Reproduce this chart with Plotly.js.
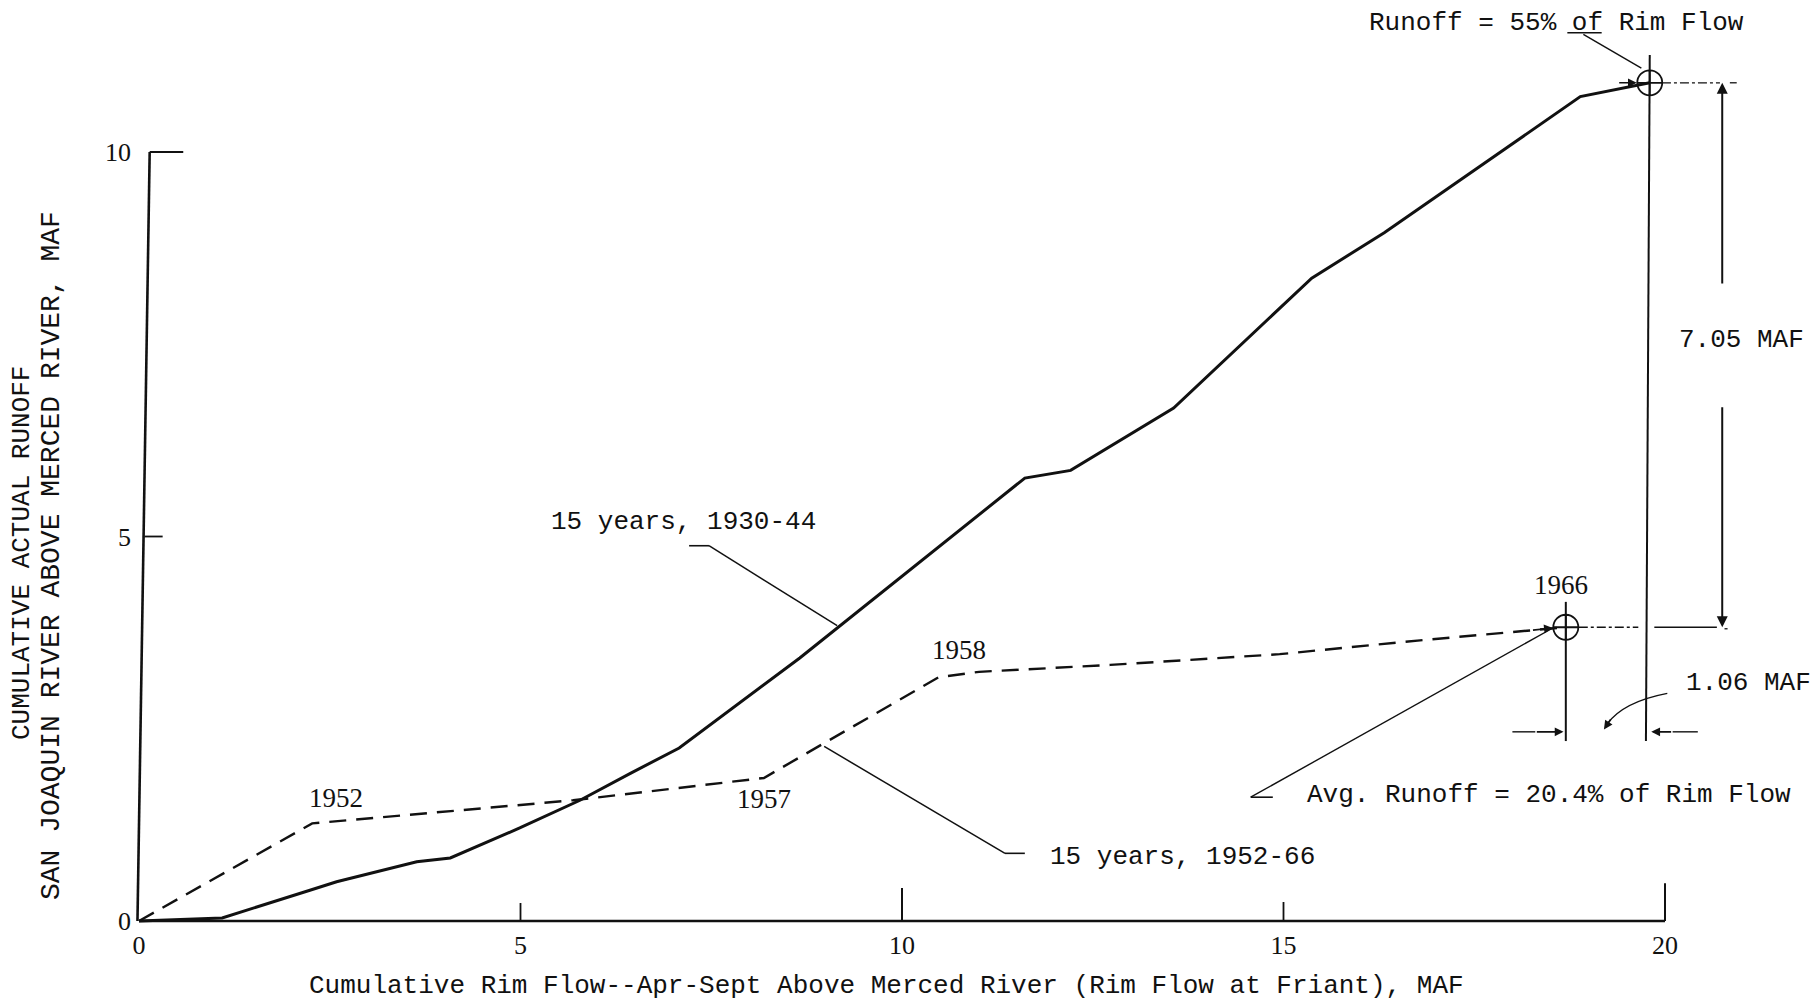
<!DOCTYPE html>
<html>
<head>
<meta charset="utf-8">
<script src="https://cdn.plot.ly/plotly-3.0.1.min.js"></script>
<style>html,body{margin:0;padding:0;background:#fff;}#chart{width:1816px;height:1005px;}</style>
</head>
<body>
<div id="chart"></div>
<script>
// ---- data ----
const solidX = [0, 1.09, 2.24, 2.59, 3.64, 4.08, 4.99, 5.78, 6.44, 7.08, 8.66, 10.72, 11.61, 12.21, 13.56, 15.37, 16.32, 18.89, 19.80];
const solidY = [0, 0.04, 0.40, 0.51, 0.77, 0.82, 1.21, 1.57, 1.92, 2.25, 3.42, 5.05, 5.76, 5.86, 6.67, 8.36, 8.95, 10.72, 10.90];
const dashX = [0, 2.27, 5.69, 8.19, 8.94, 10.48, 11.01, 12.73, 14.95, 16.79, 18.70];
const dashY = [0, 1.27, 1.57, 1.86, 2.29, 3.17, 3.24, 3.33, 3.47, 3.65, 3.82];
const xTicks = [0, 5, 10, 15, 20];
const xTickText = ['0', '5', '10', '15', '20'];
const yTicks = [0, 5, 10];
const yTickText = ['0', '5', '10'];
const solidName = '15 years, 1930-44';
const dashName = '15 years, 1952-66';
const yearLabels = ['1952', '1957', '1958', '1966'];
const xTitle = 'Cumulative Rim Flow--Apr-Sept Above Merced River (Rim Flow at Friant), MAF';
const yTitle1 = 'CUMULATIVE ACTUAL RUNOFF';
const yTitle2 = 'SAN JOAQUIN RIVER ABOVE MERCED RIVER, MAF';
const topNote = 'Runoff = 55% of Rim Flow';
const avgNote = 'Avg. Runoff = 20.4% of Rim Flow';
const diffY = '7.05 MAF';
const diffX = '1.06 MAF';

// ---- page geometry ----
const W = 1816, H = 1005, ML = 121, MB = 66;
const X0PX = 139, XS = 76.3, Y0PX = 921, YS = 76.9;
const xRange = [(ML - X0PX) / XS, (W - X0PX) / XS];
const yRange = [(Y0PX - (H - MB)) / YS, Y0PX / YS];

const ink = '#111';
const mono = 'Liberation Mono, Courier New, monospace';
const serif = 'Liberation Serif, Times New Roman, serif';

const endS = [solidX[solidX.length - 1], solidY[solidY.length - 1]];
const endD = [dashX[dashX.length - 1], dashY[dashY.length - 1]];

const traces = [
  {x: solidX, y: solidY, mode: 'lines', name: solidName,
   line: {color: ink, width: 3}},
  {x: dashX, y: dashY, mode: 'lines', name: dashName,
   line: {color: ink, width: 2.4, dash: '17px,10px'}},
  {x: [endS[0], endD[0]], y: [endS[1], endD[1]], mode: 'markers', name: 'end points',
   marker: {symbol: 'circle-cross-open', size: 25, color: ink, line: {width: 1.8, color: ink}}}
];

function L(x0, y0, x1, y1, w, dash) {
  return {type: 'line', xref: 'x', yref: 'y', x0: x0, y0: y0, x1: x1, y1: y1,
          line: {color: ink, width: w || 1.5, dash: dash || 'solid'}};
}

const shapes = [
  // axes
  L(0, 0, 20, 0, 2.6),
  L(-0.02, 0, 0.14, 10, 2.6),
  L(0.14, 10, 0.58, 10, 2),
  L(0.07, 5, 0.31, 5, 1.8),
  L(5, 0, 5, 0.234, 1.8),
  L(10, 0, 10, 0.43, 2),
  L(15, 0, 15, 0.247, 1.8),
  L(20, 0, 20, 0.49, 2),
  // leader 1930-44
  L(7.21, 4.88, 7.47, 4.88, 1.6),
  L(7.47, 4.88, 9.15, 3.84, 1.5),
  // leader 1952-66
  L(8.98, 2.27, 11.35, 0.88, 1.5),
  L(11.35, 0.88, 11.61, 0.88, 1.6),
  // runoff 55% leader
  L(18.72, 11.55, 19.17, 11.55, 1.5),
  L(18.93, 11.53, 19.69, 11.09, 1.4),
  // verticals through end points
  L(endS[0], 11.26, endS[0] - 0.05, 2.34, 2),
  L(endD[0], 4.15, endD[0], 2.34, 2),
  // horizontal lines from end points
  L(endS[0] + 0.16, endS[1], 20.72, endS[1], 1.3, 'dashdot'),
  L(20.85, endS[1], 20.94, endS[1], 1.3),
  L(endD[0] + 0.17, endD[1], 19.65, endD[1], 1.3, 'dashdot'),
  L(19.86, endD[1], 20.68, endD[1], 1.5),
  L(20.78, endD[1] - 0.02, 20.82, endD[1] - 0.02, 1.3),
  // 1.06 MAF dimension tails
  L(18.0, 2.46, 18.3, 2.46, 1.4),
  L(20.1, 2.46, 20.43, 2.46, 1.4),
  // curved pointer from 1.06 MAF
  {type: 'path', xref: 'x', yref: 'y', path: 'M 20.03 2.96 Q 19.45 2.85 19.24 2.56',
   line: {color: ink, width: 1.5}},
  // avg runoff leader
  L(14.57, 1.61, endD[0] - 0.17, endD[1] - 0.01, 1.4),
  L(14.57, 1.61, 14.86, 1.61, 1.6)
];

function T(text, x, y, opts) {
  return Object.assign({text: text, x: x, y: y, xref: 'x', yref: 'y', showarrow: false,
    font: {family: mono, size: 26, color: ink}, xanchor: 'center', yanchor: 'middle'}, opts || {});
}
function P(text, x, y, opts) {
  return T(text, x, y, Object.assign({xref: 'paper', yref: 'paper'}, opts || {}));
}
function A(x, y, ax, ay, w) {
  return {x: x, y: y, ax: ax, ay: ay, xref: 'x', yref: 'y', axref: 'x', ayref: 'y',
          text: '', showarrow: true, arrowhead: 2, arrowsize: 1.1, arrowwidth: w || 1.6, arrowcolor: ink};
}
const PW = W - ML, PH = H - MB;
const yearFont = {family: serif, size: 27, color: ink};

const annotations = [
  T(solidName, 7.13, 5.19),
  T(dashName, 11.91, 0.83, {xanchor: 'left'}),
  T(yearLabels[0], 2.58, 1.60, {font: yearFont}),
  T(yearLabels[1], 8.19, 1.59, {font: yearFont}),
  T(yearLabels[2], 10.75, 3.52, {font: yearFont}),
  T(yearLabels[3], 18.64, 4.37, {font: yearFont}),
  T(topNote, 18.58, 11.68),
  T(diffY, 21.0, 7.56),
  T(diffX, 21.1, 3.09),
  T(avgNote, 15.28, 1.64, {xanchor: 'left'}),
  P(xTitle, (886 - ML) / PW, (PH - 986) / PH),
  P(yTitle1, (22 - ML) / PW, (PH - 553) / PH, {textangle: -90}),
  P(yTitle2, (51 - ML) / PW, (PH - 556) / PH, {textangle: -90, font: {family: mono, size: 28, color: ink}}),
  // arrows
  A(endS[0] - 0.17, endS[1], endS[0] - 0.42, endS[1]),
  A(endD[0] - 0.17, endD[1] - 0.01, endD[0] - 0.45, endD[1] - 0.04),
  A(20.75, endS[1], 20.75, 8.27, 2),
  A(20.75, endD[1], 20.75, 6.70, 2),
  A(endD[0] - 0.03, 2.46, 18.3, 2.46),
  A(endS[0] + 0.02, 2.46, 20.1, 2.46),
  A(19.2, 2.49, 19.3, 2.64)
];

const layout = {
  width: W, height: H,
  margin: {l: ML, r: 0, t: 0, b: MB},
  paper_bgcolor: '#fff', plot_bgcolor: '#fff',
  showlegend: false,
  xaxis: {range: xRange, anchor: 'free', position: (H - MB - Y0PX) / (H - MB),
          showgrid: false, zeroline: false, showline: false, ticks: '',
          tickvals: xTicks, ticktext: xTickText, ticklabelstandoff: 6,
          tickfont: {family: serif, size: 26, color: ink}},
  yaxis: {range: yRange, anchor: 'free', position: (X0PX - ML) / (W - ML),
          showgrid: false, zeroline: false, showline: false, ticks: '',
          tickvals: yTicks, ticktext: yTickText, ticklabelstandoff: 8,
          tickfont: {family: serif, size: 26, color: ink}},
  shapes: shapes,
  annotations: annotations
};

Plotly.newPlot('chart', traces, layout, {displayModeBar: false, staticPlot: true});
</script>
</body>
</html>
